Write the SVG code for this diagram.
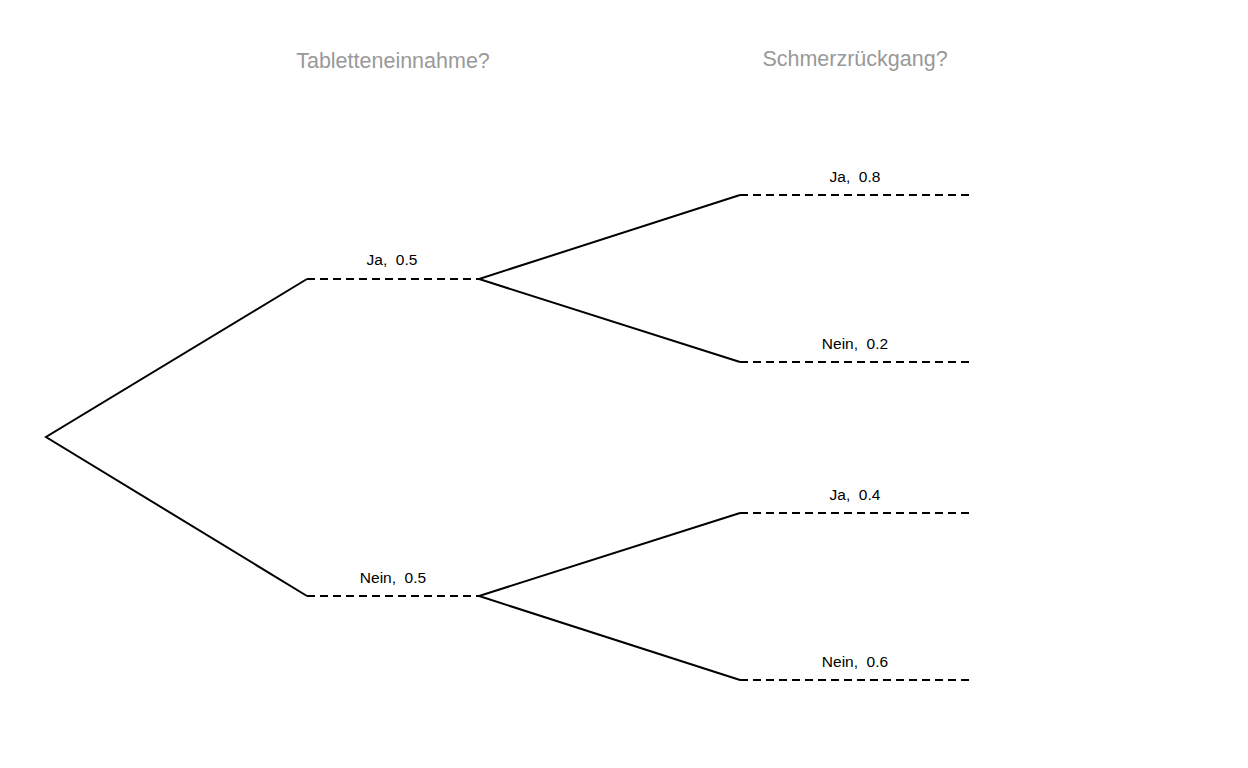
<svg xmlns="http://www.w3.org/2000/svg" width="1248" height="768" viewBox="0 0 1248 768">
<style>
.solid{fill:none;stroke:#000;stroke-width:2}
.dash{fill:none;stroke:#000;stroke-width:2;stroke-dasharray:8,5}
.lbl{font-family:"Liberation Sans",Arial,sans-serif;font-size:15.5px;fill:#000;text-anchor:middle;white-space:pre}
.ttl{font-family:"Liberation Sans",Arial,sans-serif;font-size:21.5px;fill:#999;text-anchor:middle}
</style>
<rect width="1248" height="768" fill="#fff"/>
<g id="titles">
<text class="ttl" x="393" y="68">Tabletteneinnahme?</text>
<text class="ttl" x="855" y="66">Schmerzrückgang?</text>
</g>
<g id="connectors">
<polyline class="solid" points="307,279 46,437 307,596"/>
<polyline class="solid" points="740,195 479,279 740,362"/>
<polyline class="solid" points="740,513 479,596 740,680"/>
</g>
<g id="node-ja1"><line class="dash" x1="307" y1="279" x2="479" y2="279"/><text class="lbl" x="392" y="265" xml:space="preserve">Ja,  0.5</text></g>
<g id="node-nein1"><line class="dash" x1="307" y1="596" x2="479" y2="596"/><text class="lbl" x="393" y="583" xml:space="preserve">Nein,  0.5</text></g>
<g id="node-ja-ja"><line class="dash" x1="740" y1="195" x2="972" y2="195"/><text class="lbl" x="855" y="182" xml:space="preserve">Ja,  0.8</text></g>
<g id="node-ja-nein"><line class="dash" x1="740" y1="362" x2="972" y2="362"/><text class="lbl" x="855" y="349" xml:space="preserve">Nein,  0.2</text></g>
<g id="node-nein-ja"><line class="dash" x1="740" y1="513" x2="972" y2="513"/><text class="lbl" x="855" y="500" xml:space="preserve">Ja,  0.4</text></g>
<g id="node-nein-nein"><line class="dash" x1="740" y1="680" x2="972" y2="680"/><text class="lbl" x="855" y="667" xml:space="preserve">Nein,  0.6</text></g>
</svg>
